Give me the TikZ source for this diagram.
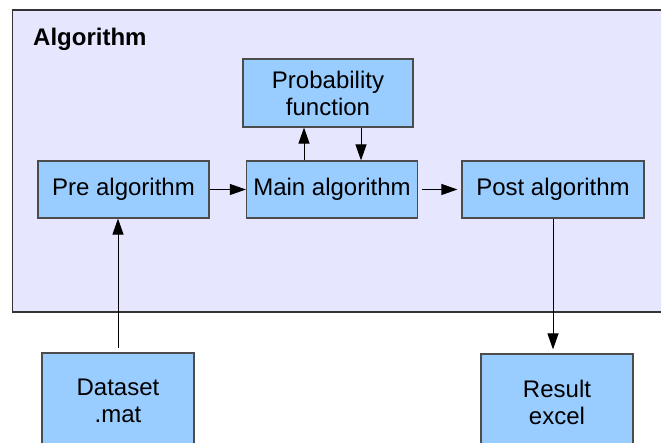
\documentclass[tikz,border=0pt]{standalone}
\usepackage{fontspec}
\setmainfont{Liberation Sans}
\usetikzlibrary{arrows.meta}
\definecolor{boxblue}{HTML}{99CCFF}
\definecolor{algbg}{HTML}{E6E6FF}
\tikzstyle{block} = [draw=black!70, fill=boxblue, line width=1.2pt, inner sep=0pt, align=center, font={\fontsize{24}{27}\selectfont}]
\tikzstyle{frame} = [draw=black!80, fill=algbg, line width=1.2pt]
\tikzstyle{link} = [-{Triangle[length=16pt,width=11pt]}, line width=1pt]

\begin{document}
\begin{tikzpicture}[x=1pt,y=-1pt]
    \useasboundingbox (0,0) rectangle (661,443);
    \draw[frame] (12.5,10) rectangle (700,312);
    \node[anchor=base west, inner sep=0pt, font={\bfseries\fontsize{24}{27}\selectfont}](title) at (33,46){Algorithm};
    \node[block, minimum width=170pt, minimum height=68pt](prob) at (328,93){Probability\\function};
    \node[block, minimum width=171pt, minimum height=57pt](pre) at (123.5,189.5){Pre algorithm};
    \node[block, minimum width=171pt, minimum height=57pt](main) at (332,189.5){Main algorithm};
    \node[block, minimum width=182pt, minimum height=57pt](post) at (553,189.5){Post algorithm};
    \node[block, minimum width=152pt, minimum height=96pt](data) at (118,401){Dataset\\.mat};
    \node[block, minimum width=152pt, minimum height=96pt](result) at (557,402){Result\\excel};
    \draw[link](pre)--(main);
    \draw[link, shorten <=4pt, shorten >=4pt](main)--(post);
    \draw[link]([xshift=-28pt]main.north)--([xshift=-28pt]main.north |- prob.south);
    \draw[link]([xshift=29pt]main.north |- prob.south)--([xshift=29pt]main.north);
    \draw[link, shorten <=4pt](data.north)--(data.north |- pre.south);
    \draw[link, shorten >=4pt](post.south)--(post.south |- result.north);
  \end{tikzpicture}
\end{document}
